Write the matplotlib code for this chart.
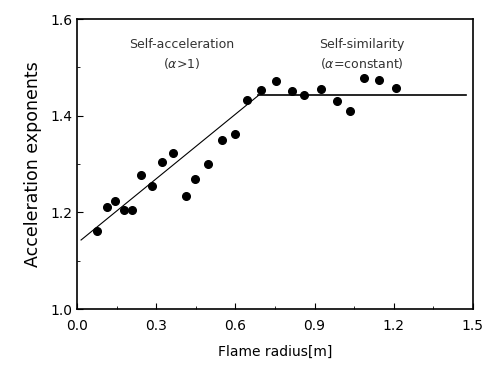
import numpy as np
import matplotlib.pyplot as plt
from matplotlib.ticker import MultipleLocator

# measured points
radius = [0.076, 0.112, 0.145, 0.177, 0.208, 0.244, 0.283, 0.322, 0.362, 0.412,
          0.448, 0.496, 0.549, 0.597, 0.644, 0.698, 0.754, 0.814, 0.861, 0.923,
          0.984, 1.034, 1.087, 1.146, 1.208]
alpha = [1.162, 1.211, 1.224, 1.206, 1.206, 1.278, 1.255, 1.304, 1.322, 1.234,
         1.269, 1.300, 1.349, 1.363, 1.433, 1.453, 1.473, 1.452, 1.443, 1.455,
         1.431, 1.410, 1.478, 1.474, 1.458]

# fitted lines
fit_x = [0.015, 0.687]
fit_y = [1.143, 1.442]
flat_x = [0.687, 1.473]
flat_y = [1.442, 1.442]

fig = plt.figure(figsize=(4.88, 3.68), dpi=100)
ax = fig.add_axes([0.158, 0.160, 0.811, 0.788])

ax.plot(radius, alpha, 'o', color='black', ms=5.5)
ax.plot(fit_x, fit_y, color='black', lw=0.8)
ax.plot(flat_x, flat_y, color='black', lw=1.2)

ax.text(0.396, 1.547, 'Self-acceleration', ha='center', va='center', fontsize=9, color='#333333')
ax.text(0.396, 1.509, r'($\alpha$>1)', ha='center', va='center', fontsize=9, color='#333333')
ax.text(1.08, 1.547, 'Self-similarity', ha='center', va='center', fontsize=9, color='#333333')
ax.text(1.08, 1.509, r'($\alpha$=constant)', ha='center', va='center', fontsize=9, color='#333333')

ax.set_xlim(0, 1.5)
ax.set_ylim(1.0, 1.6)
ax.set_xticks([0, 0.3, 0.6, 0.9, 1.2, 1.5])
ax.set_yticks([1.0, 1.2, 1.4, 1.6])
ax.xaxis.set_minor_locator(MultipleLocator(0.15))
ax.yaxis.set_minor_locator(MultipleLocator(0.1))
ax.tick_params(which='both', direction='in', labelsize=10)
ax.tick_params(which='major', length=4)
ax.tick_params(which='minor', length=2)
ax.tick_params(axis='x', which='major', pad=7)
ax.set_xlabel('Flame radius[m]', fontsize=10, labelpad=9)
ax.set_ylabel('Acceleration exponents', fontsize=12.5, labelpad=6)
for s in ax.spines.values():
    s.set_linewidth(1.2)

fig.savefig('out.png', dpi=100)
